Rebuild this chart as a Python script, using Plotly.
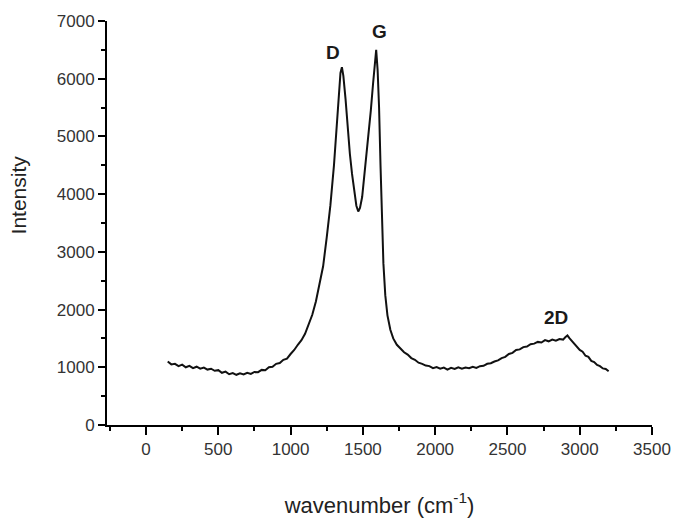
import plotly.graph_objects as go

# Raman spectrum
wavenumber = [
    150, 175, 200, 225, 250, 275, 300, 325, 350, 375, 400, 425, 450, 475, 500,
    525, 550, 575, 600, 625, 650, 675, 700, 725, 750, 775, 800, 825, 850, 875,
    900, 925, 950, 975, 1000,
    1025, 1050, 1075, 1100, 1125, 1150, 1175, 1200, 1225, 1250, 1275, 1300,
    1320, 1335, 1345, 1355, 1365, 1380, 1395, 1410, 1425, 1440, 1455, 1468,
    1480, 1495, 1510, 1525, 1540, 1555, 1570, 1582, 1592, 1602, 1612, 1622,
    1632, 1642, 1655, 1670, 1690, 1710, 1735, 1760,
    1785, 1810, 1835, 1860, 1885, 1910, 1935, 1960, 1985, 2010, 2035, 2060,
    2085, 2110, 2135, 2160, 2185, 2210, 2235, 2260, 2285, 2310, 2335, 2360,
    2385, 2410, 2435, 2460, 2485, 2510, 2535, 2560, 2585, 2610, 2635, 2660,
    2685, 2710, 2735, 2760, 2785, 2810, 2835, 2860, 2885, 2900, 2915, 2930,
    2945, 2960, 2980, 3000, 3020, 3040, 3060, 3080, 3100, 3120, 3140, 3160,
    3180, 3200,
]
intensity = [
    1100, 1050, 1060, 1020, 1045, 1000, 1025, 985, 1010, 975, 995, 960, 975, 940, 950,
    905, 925, 880, 900, 870, 895, 875, 905, 885, 920, 915, 955, 950, 1000, 1010,
    1060, 1075, 1130, 1150, 1230,
    1300, 1390, 1470, 1580, 1730, 1910, 2140, 2420, 2750, 3250, 3800, 4500,
    5300, 5850, 6100, 6200, 6050, 5650, 5150, 4700, 4350, 4020, 3800, 3700,
    3760, 3950, 4300, 4700, 5050, 5450, 5900, 6250, 6500, 6150, 5500, 4500,
    3500, 2800, 2250, 1900, 1650, 1500, 1390, 1330,
    1260, 1220, 1160, 1130, 1080, 1060, 1030, 1020, 985, 1005, 975, 995,
    960, 990, 970, 1000, 975, 995, 985, 1010, 990, 1020, 1025, 1060,
    1070, 1100, 1120, 1160, 1180, 1230, 1250, 1300, 1310, 1350, 1360, 1400,
    1410, 1440, 1430, 1470, 1450, 1480, 1460, 1490, 1480, 1520, 1550, 1500,
    1460, 1410, 1370, 1300, 1270, 1200, 1180, 1110, 1090, 1040, 1020, 980,
    970, 930,
]

peak_labels = ["D", "G", "2D"]
peak_x = [1294, 1612, 2835]
peak_y = [6460, 6810, 1860]

x_tickvals = [0, 500, 1000, 1500, 2000, 2500, 3000, 3500]
y_tickvals = [0, 1000, 2000, 3000, 4000, 5000, 6000, 7000]

FONT = "Liberation Sans, Arial, sans-serif"

fig = go.Figure()
fig.add_trace(go.Scatter(
    x=wavenumber, y=intensity, mode="lines",
    line=dict(color="#111111", width=2),
    showlegend=False, hoverinfo="x+y",
))

for lab, px, py in zip(peak_labels, peak_x, peak_y):
    fig.add_annotation(x=px, y=py, text=f"<b>{lab}</b>", showarrow=False,
                       xanchor="center", yanchor="middle",
                       font=dict(family=FONT, size=19, color="#1a1a1a"))

# y-axis title (placed off-centre, as in the reference)
fig.add_annotation(xref="paper", yref="paper", x=-0.162, y=0.57,
                   text="Intensity", textangle=-90, showarrow=False,
                   xanchor="center", yanchor="middle",
                   font=dict(family=FONT, size=21, color="#222222"))

axis_common = dict(
    showline=True, linecolor="black", linewidth=1.8,
    ticks="outside", tickcolor="black", tickwidth=1.8,
    showgrid=False, zeroline=False, mirror=False,
    ticklabeloverflow="allow",
    tickfont=dict(family=FONT, size=17, color="#333333"),
)

fig.update_xaxes(
    range=[-270, 3500], tickvals=x_tickvals, ticklen=8,
    minor=dict(dtick=250, tick0=0, ticks="outside", ticklen=4, tickcolor="black", tickwidth=1.8),
    title=dict(text="wavenumber (cm<sup>-1</sup>)", standoff=39,
               font=dict(family=FONT, size=22, color="#222222")),
    **axis_common,
)
fig.update_yaxes(
    range=[0, 7000], tickvals=y_tickvals, ticklen=7,
    minor=dict(dtick=500, tick0=0, ticks="outside", ticklen=4, tickcolor="black", tickwidth=1.8),
    **axis_common,
)

fig.update_layout(
    width=675, height=519,
    margin=dict(l=107, r=23, t=21, b=94, autoexpand=False),
    paper_bgcolor="white", plot_bgcolor="white",
)

# remove the browser's default 8px body margin so the figure fills the window
fig.write_html("out.html",
               config={"displayModeBar": False},
               post_script="document.body.style.margin='0';document.body.style.overflow='hidden';")
